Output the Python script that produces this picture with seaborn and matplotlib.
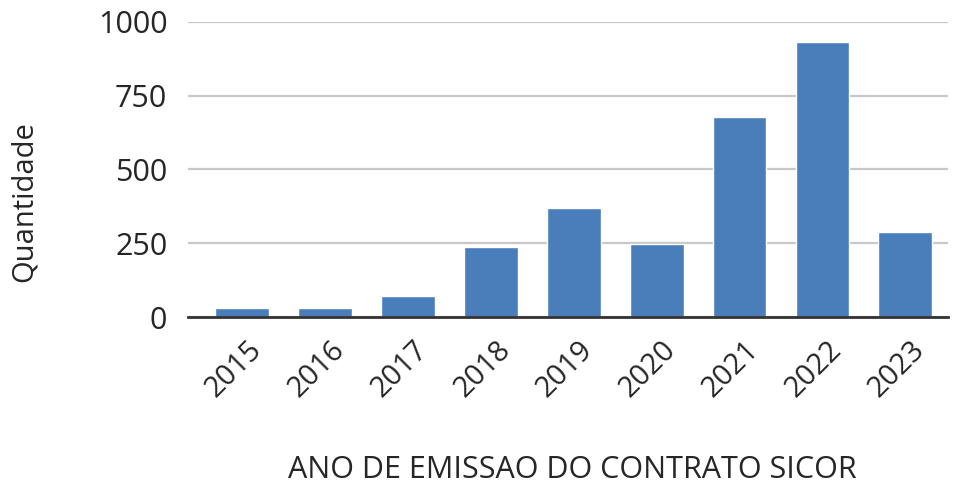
import matplotlib
matplotlib.use("Agg")
import matplotlib.pyplot as plt
import matplotlib.transforms as mtransforms
import seaborn as sns
import pandas as pd

anos = ["2015", "2016", "2017", "2018", "2019", "2020", "2021", "2022", "2023"]
quantidade = [32, 32, 72, 238, 370, 247, 676, 931, 287]
yticks = [0, 250, 500, 750, 1000]

df = pd.DataFrame({"ano": anos, "quantidade": quantidade})

sns.set_theme(style="white")
plt.rcParams["font.family"] = ["Open Sans", "DejaVu Sans"]

fig = plt.figure(figsize=(9.6, 4.84), dpi=100)
ax = fig.add_axes([0.196, 0.345, 0.792, 0.61])

sns.barplot(data=df, x="ano", y="quantidade", color="#4A7EBB", width=0.65,
            saturation=1, ax=ax, zorder=3)

ax.set_ylim(0, 1000)
ax.set_xlim(-0.65, 8.52)
ax.set_yticks(yticks)
ax.set_yticklabels([str(v) for v in yticks], fontsize=22, color="#262626")
ax.tick_params(axis="y", length=0, pad=15)
ax.tick_params(axis="x", length=0, pad=13)
offset = mtransforms.ScaledTranslation(0.05, 0, fig.dpi_scale_trans)
for lab in ax.get_xticklabels():
    lab.set_rotation(45)
    lab.set_ha("right")
    lab.set_rotation_mode("anchor")
    lab.set_fontsize(21)
    lab.set_color("#262626")
    lab.set_transform(lab.get_transform() + offset)

ax.yaxis.grid(True, color="#c8c8c8", linewidth=1.6, zorder=0)
ax.set_axisbelow(True)
for s in ["top", "right", "left"]:
    ax.spines[s].set_visible(False)
ax.spines["bottom"].set_color("#333333")
ax.spines["bottom"].set_linewidth(2)
ax.spines["bottom"].set_zorder(4)

ax.set_ylabel("Quantidade", fontsize=21, color="#262626")
ax.yaxis.set_label_coords(-0.196, 0.39)
ax.set_xlabel("")
fig.text(0.596, 0.029, "ANO DE EMISSAO DO CONTRATO SICOR", ha="center",
         va="center", fontsize=22, color="#262626")

fig.savefig("out.png", dpi=100)
